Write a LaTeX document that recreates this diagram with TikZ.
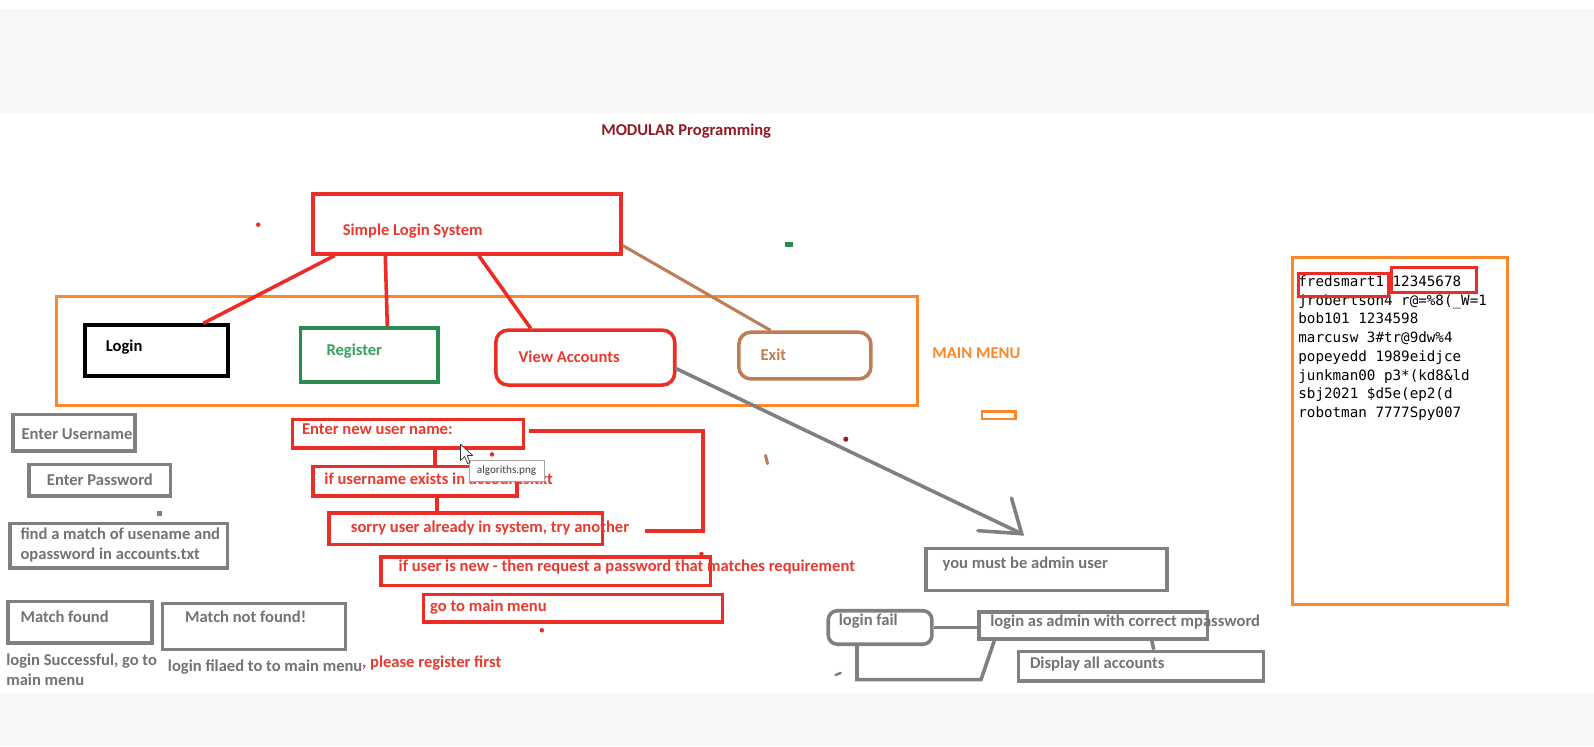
\documentclass[tikz,border=0pt]{standalone}
\usepackage{fontspec}
\setmainfont{Carlito}
\newfontfamily\monof{DejaVu Sans Mono}
\usetikzlibrary{calc}
\definecolor{pred}{RGB}{236,45,38}
\definecolor{ptext}{RGB}{232,58,48}
\definecolor{porange}{RGB}{250,135,40}
\definecolor{pgray}{RGB}{128,128,128}
\definecolor{pgtext}{RGB}{115,115,115}
\definecolor{pgreen}{RGB}{40,140,80}
\definecolor{pgtxt}{RGB}{55,160,90}
\definecolor{pbrown}{RGB}{190,125,85}
\definecolor{pdark}{RGB}{145,25,35}
\definecolor{bandgray}{RGB}{248,247,246}
\begin{document}
\begin{tikzpicture}[x=1pt,y=-1pt,
  bx/.style={draw, inner sep=0pt, anchor=north west, line width=3.5pt},
  redbox/.style={bx, draw=pred},
  graybox/.style={bx, draw=pgray},
  tx/.style={inner sep=0pt, anchor=west, font=\bfseries\fontsize{16.3}{20}\selectfont},
  rtx/.style={tx, text=ptext},
  gtx/.style={tx, text=pgtext},
  redline/.style={draw=pred, line width=3.5pt},
  grayline/.style={draw=pgray, line width=3.5pt},
  mono/.style={inner sep=0pt, anchor=north west, align=left, font=\monof\fontsize{14}{18.4}\selectfont}]
\useasboundingbox (0,0) rectangle (1568,734);
\fill[white] (0,0) rectangle (1568,734);
\fill[bandgray] (0,9) rectangle (1568,111);
\fill[bandgray] (0,682) rectangle (1568,734);

% title
\node[tx, anchor=center, text=pdark] (title) at (675,129) {MODULAR Programming};

% main menu frame
\node[bx, draw=porange, line width=3pt, minimum width=847pt, minimum height=107pt] (menu) at (54,290) {};
\node[tx, text=porange] (menuT) at (917,347) {MAIN MENU};

% top box
\node[redbox, minimum width=303pt, minimum height=59pt] (simple) at (306,189) {};
\node[rtx] (simpleT) at (337,227) {Simple Login System};

% menu items
\node[bx, draw=black, line width=4pt, minimum width=140pt, minimum height=50pt] (login) at (82,318) {};
\node[tx, text=black] (loginT) at (104,341) {Login};
\node[bx, draw=pgreen, minimum width=135pt, minimum height=53pt] (register) at (294,321) {};
\node[tx, text=pgtxt] (registerT) at (321,345) {Register};
\node[redbox, rounded corners=12pt, minimum width=176pt, minimum height=54pt] (view) at (486,323) {};
\node[rtx] (viewT) at (510,351) {View Accounts};
\node[bx, draw=pbrown, rounded corners=12pt, minimum width=130pt, minimum height=46pt] (exit) at (725,325) {};
\node[tx, text=pbrown] (exitT) at (748,349) {Exit};

% connectors from the top box
\draw[redline] ([xshift=23pt]simple.south west) -- ([xshift=118pt]login.north west);
\draw[redline] ([xshift=73pt]simple.south west) -- ([xshift=87pt]register.north west);
\draw[redline] ([xshift=165pt]simple.south west) -- ([xshift=36pt]view.north west);
\draw[draw=pbrown, line width=3pt] ([yshift=10pt]simple.south east) -- ([xshift=33pt]exit.north west);

% login column
\node[graybox, minimum width=120pt, minimum height=36pt] (user) at (11,406) {};
\node[gtx] (userT) at (21,427) {Enter Username};
\node[graybox, minimum width=139pt, minimum height=31pt] (pass) at (27,455) {};
\node[gtx] (passT) at (46,472) {Enter Password};
\node[graybox, minimum width=214pt, minimum height=44pt] (find) at (8,513) {};
\node[gtx, anchor=north west, align=left] (findT) at (20,519) {find a match of usename and\\opassword in accounts.txt};
\node[graybox, minimum width=142pt, minimum height=41pt] (found) at (6,590) {};
\node[gtx] (foundT) at (20,607) {Match found};
\node[graybox, minimum width=180pt, minimum height=45pt] (notfound) at (158,592) {};
\node[gtx] (notfoundT) at (182,607) {Match not found!};
\node[gtx, anchor=north west, align=left] (succT) at (6,643) {login Successful, go to\\main menu};
\node[gtx] (failT) at (165,656) {login filaed to to main menu};
\node[rtx] (regfirstT) at (356,652) {, please register first};

% register column
\node[redbox, minimum width=227pt, minimum height=28pt] (enu) at (286,411) {};
\node[rtx] (enuT) at (297,422) {Enter new user name:};
\node[rtx] (ifuT) at (319,471) {if username exists in accounts.txt};
\node[redbox, minimum width=201pt, minimum height=29pt] (ifu) at (306,457) {};
\node[redbox, minimum width=269pt, minimum height=31pt] (sorry) at (322,503) {};
\node[rtx] (sorryT) at (345,519) {sorry user already in system, try another};
\node[redbox, minimum width=324pt, minimum height=28pt] (new) at (373,546) {};
\node[rtx] (newT) at (392,558) {if user is new - then request a password that matches requirement};
\node[redbox, minimum width=294pt, minimum height=27pt] (gomenu) at (415,583) {};
\node[rtx] (gomenuT) at (423,597) {go to main menu};

\draw[redline] ([xshift=142pt]enu.south west) -- ([xshift=122pt]ifu.north west);
\draw[redline] ([xshift=124pt]ifu.south west) -- ([xshift=108pt]sorry.north west);
\draw[redline] ([xshift=4pt,yshift=3pt]enu.east) -| ([xshift=97pt,yshift=-2pt]sorry.east) -- ([xshift=40pt,yshift=-2pt]sorry.east);

% tooltip and cursor
\node[draw=pgray!70, line width=0.6pt, fill=white, inner sep=0pt, anchor=north west,
      minimum width=74pt, minimum height=21pt,
      font=\fontsize{11}{13}\selectfont, text=black!75] (tip) at (461,452) {algoriths.png};
\draw[fill=white, draw=black!80, line width=0.7pt, line join=round]
  (453,437) -- (453,453) -- (457,449) -- (460,456) -- (462.5,455) -- (459.5,448) -- (465,448) -- cycle;

% admin area
\coordinate (arrowtip) at (1005,525);
\draw[grayline, line cap=round] ([yshift=-11pt]view.east) -- (arrowtip);
\draw[grayline, line cap=round] (995,490) -- (arrowtip) -- (962,522);
\node[graybox, minimum width=237pt, minimum height=41pt] (must) at (909,538) {};
\node[gtx] (mustT) at (927,555) {you must be admin user};
\node[graybox, rounded corners=9pt, minimum width=102pt, minimum height=33pt] (fail) at (813,599) {};
\node[gtx] (failT2) at (825,611) {login fail};
\node[graybox, minimum width=225pt, minimum height=27pt] (admin) at (961,600) {};
\node[gtx] (adminT) at (974,612) {login as admin with correct mpassword};
\node[graybox, minimum width=241pt, minimum height=29pt] (display) at (1000,639) {};
\node[gtx] (displayT) at (1013,653) {Display all accounts};
\draw[grayline] (fail.east) -- (fail.east -| admin.west);
\draw[grayline] ([xshift=172pt]admin.south west) -- ([xshift=135pt]display.north west);
\draw[grayline] ([xshift=30pt]fail.south west) -- ++(0,33) -- ++(122,0) -- ([xshift=17pt]admin.south west);

% accounts file
\node[bx, draw=porange, line width=3pt, minimum width=211pt, minimum height=341pt] (file) at (1270,252) {};
\node[mono] (fileT) at (1277,271) {fredsmart1 12345678\\jrobertson4 r@=\%8(\_W=1\\bob101 1234598\\marcusw 3\#tr@9dw\%4\\popeyedd 1989eidjce\\junkman00 p3*(kd8\&ld\\sbj2021 \$d5e(ep2(d\\robotman 7777Spy007};
\node[redbox, line width=3pt, minimum width=88pt, minimum height=22pt] (fred) at (1276,268) {};
\node[redbox, line width=3pt, minimum width=84pt, minimum height=24pt] (num) at (1367,262) {};

% stray marks
\fill[pred] (254,221) circle (2.2);
\fill[pgreen] (772,238) rectangle (780,243);
\draw[porange, line width=2.5pt] (966,405) rectangle (999,412);
\fill[pdark] (832,432) circle (2.5);
\draw[pbrown, line width=3pt, line cap=round] (753,448) -- (755,456);
\fill[pgray] (154,503) rectangle (159,508);
\fill[pred] (484,447) circle (2.2);
\fill[pred] (690,545) circle (2.2);
\fill[pred] (533,620) circle (2.2);
\draw[pgray, line width=2.5pt, line cap=round] (822,664) -- (827,662);
\end{tikzpicture}
\end{document}
